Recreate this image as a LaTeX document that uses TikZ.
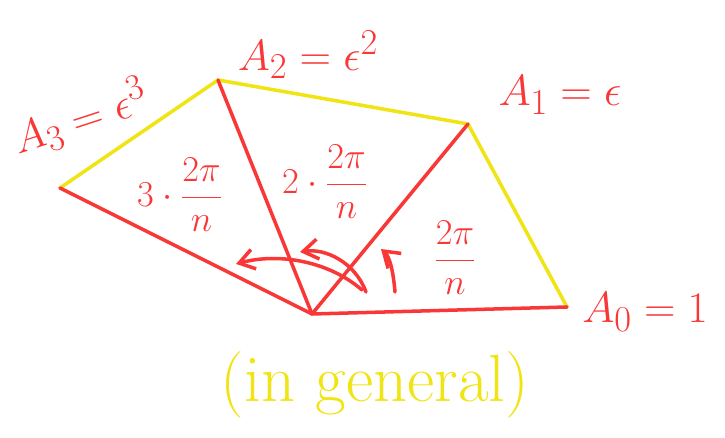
\documentclass[tikz,border=0pt]{standalone}
\usepackage{xcolor}
\usepackage{tikz}
\usetikzlibrary{arrows.meta}
\definecolor{penred}{RGB}{250,55,55}
\definecolor{penyellow}{RGB}{240,228,20}

\begin{document}
\begin{tikzpicture}[
  x=0.02cm, y=-0.02cm,
  spoke/.style={penred, line width=2pt, line cap=round},
  rim/.style={penyellow, line width=2pt, line cap=round},
  sweep/.style={penred, line width=2pt, line cap=round, -{Straight Barb[length=3mm, width=4mm]}},
  vlabel/.style={text=penred, font=\fontsize{28}{32}\selectfont, inner sep=0pt},
  alabel/.style={text=penred, font=\fontsize{22}{26}\selectfont, inner sep=0pt}
]
  \useasboundingbox (0,0) rectangle (725,438);
  % vertices
  \coordinate (O) at (312,314);
  \coordinate (A0) at (567,307);
  \coordinate (A1) at (468,124);
  \coordinate (A2) at (218,80);
  \coordinate (A3) at (60,188);
  % sides
  \draw[rim] (A0) -- (A1);
  \draw[rim] (A1) -- (A2);
  \draw[rim] (A2) -- (A3);
  \draw[spoke] (O) -- (A0);
  \draw[spoke] (O) -- (A1);
  \draw[spoke] (O) -- (A2);
  \draw[spoke] (O) -- (A3);
  % angle arrows
  \draw[sweep] (395,292) .. controls (393,268) and (389,256) .. (381,249);
  \draw[sweep] (366,292) .. controls (355,262) and (325,248) .. (300,252);
  \draw[sweep] (362,290) .. controls (330,262) and (280,252) .. (236,264);
  % labels
  \node[vlabel] (l0) at (645,312) {$A_0 = 1$};
  \node[vlabel] (l1) at (560,95) {$A_1 = \epsilon$};
  \node[vlabel] (l2) at (308,55) {$A_2 = \epsilon^2$};
  \node[vlabel, rotate=18] (l3) at (80,118) {$A_3 = \epsilon^3$};
  \node[alabel] (t1) at (455,258) {$\displaystyle\frac{2\pi}{n}$};
  \node[alabel] (t2) at (325,182) {$2\cdot\displaystyle\frac{2\pi}{n}$};
  \node[alabel] (t3) at (180,195) {$3\cdot\displaystyle\frac{2\pi}{n}$};
  \node[text=penyellow, font=\fontsize{38}{42}\selectfont, inner sep=0pt] (gen) at (375,385) {(in general)};
\end{tikzpicture}
\end{document}
